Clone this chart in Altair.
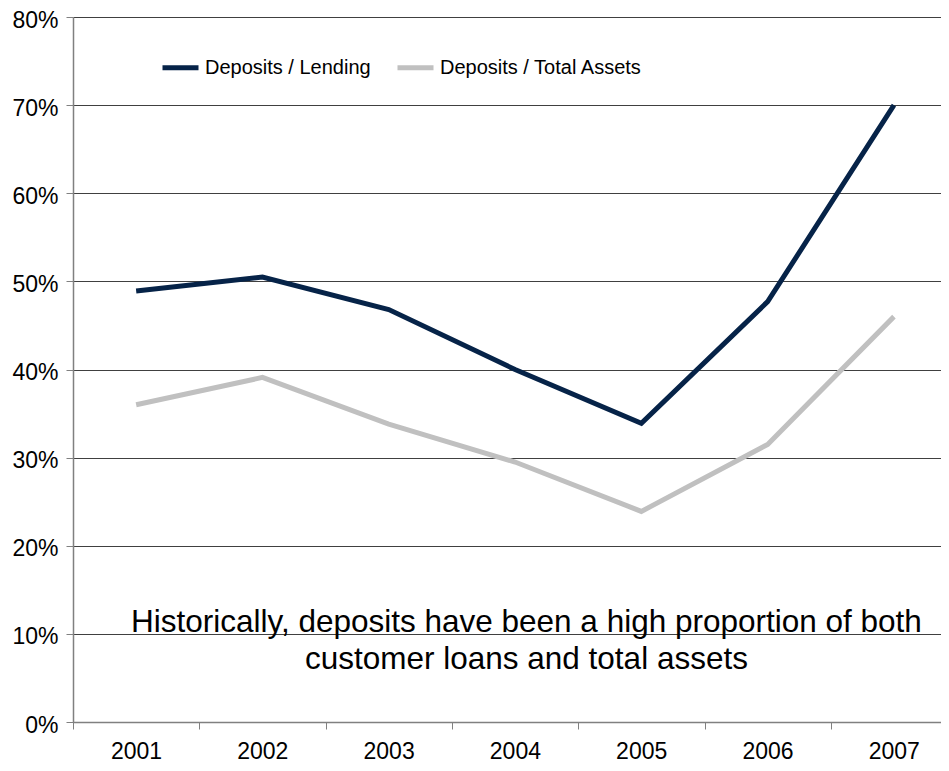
import altair as alt
import pandas as pd

years = [2001, 2002, 2003, 2004, 2005, 2006, 2007]
series_names = ["Deposits / Lending", "Deposits / Total Assets"]
deposits_lending = [0.489, 0.505, 0.468, 0.400, 0.339, 0.477, 0.700]
deposits_assets = [0.360, 0.391, 0.338, 0.295, 0.239, 0.315, 0.460]
series_colors = ["#062348", "#c0c0c0"]

note_lines = ["Historically, deposits have been a high proportion of both",
              "customer loans and total assets"]
note_x = [2004.09]
note_y = [0.102]

tick_years = [y - 0.5 for y in years]

rows = []
for name, vals in zip(series_names, [deposits_lending, deposits_assets]):
    for y, v in zip(years, vals):
        rows.append({"year": y, "value": v, "series": name})
df = pd.DataFrame(rows)

note_df = pd.DataFrame({"x": note_x, "y": note_y, "text": [note_lines]})

FONT = "Liberation Sans"
W = 868
BAND = 126.3

x_scale = alt.Scale(domain=[2000.5, 2000.5 + W / BAND], nice=False, zero=False)
y_scale = alt.Scale(domain=[0, 0.8], nice=False)

lines = alt.Chart(df).mark_line(strokeWidth=5, strokeCap="butt", strokeJoin="miter", clip=True).encode(
    x=alt.X("year:Q", scale=x_scale, title=None,
            axis=alt.Axis(values=tick_years, labelExpr="round(datum.value + 0.5)",
                          labelOffset=63, tickSize=7, labelPadding=11,
                          grid=False, labelFontSize=23, labelFont=FONT,
                          labelColor="#000000", domainColor="#808080",
                          tickColor="#808080", labelFlush=False, labelOverlap=False)),
    y=alt.Y("value:Q", scale=y_scale, title=None,
            axis=alt.Axis(format=".0%", values=[i / 10 for i in range(9)], tickSize=7,
                          labelPadding=8, labelFontSize=23, labelFont=FONT,
                          labelColor="#000000", domainColor="#808080",
                          tickColor="#808080", gridColor="#404040", gridWidth=1,
                          labelOffset=3, labelFlush=False)),
    color=alt.Color("series:N",
                    scale=alt.Scale(domain=series_names, range=series_colors),
                    legend=alt.Legend(orient="none", legendX=87, legendY=30,
                                      direction="horizontal", title=None,
                                      symbolType="stroke", symbolSize=1296,
                                      symbolStrokeWidth=5, labelFontSize=20,
                                      labelFont=FONT, labelColor="#000000",
                                      labelLimit=400, columnPadding=16,
                                      labelOffset=4, padding=0)),
    detail="series:N",
)

note = alt.Chart(note_df).mark_text(fontSize=31.5, font=FONT, color="#000000",
                                    align="center", baseline="alphabetic",
                                    lineHeight=37).encode(
    x=alt.X("x:Q", scale=x_scale),
    y=alt.Y("y:Q", scale=y_scale),
    text="text",
)

chart = alt.layer(lines, note).properties(
    width=W, height=705,
    autosize=alt.AutoSizeParams(type="none"),
    padding={"left": 65, "top": 9, "right": 0, "bottom": 41},
).configure_view(stroke=None).configure_axis(domainWidth=1.5)

chart.save("out.html", embed_options={"renderer": "svg", "actions": False})
